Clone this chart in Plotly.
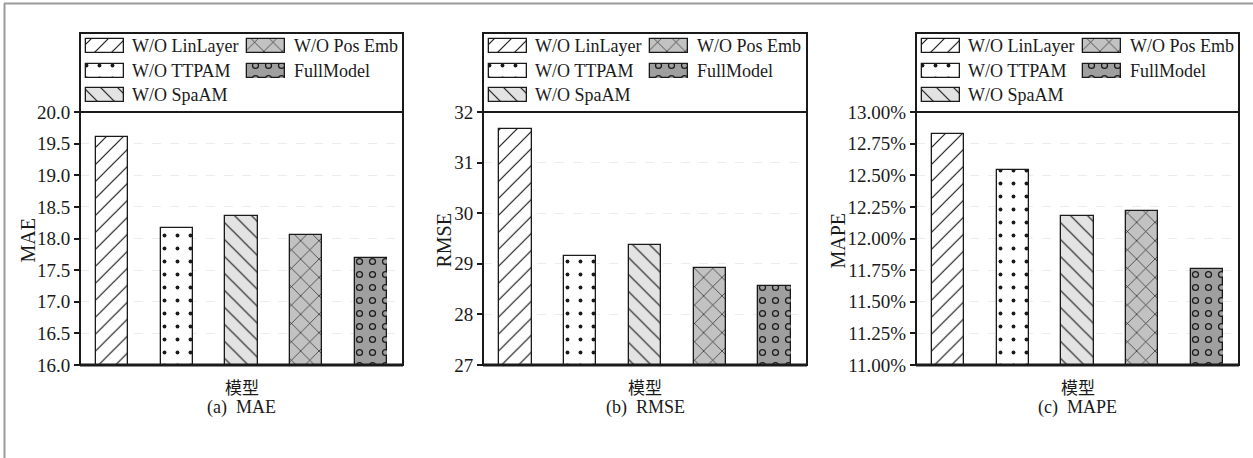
import plotly.graph_objects as go

# ---- data ----
models = ["W/O LinLayer", "W/O TTPAM", "W/O SpaAM", "W/O Pos Emb", "FullModel"]
mae = [19.60, 18.16, 18.35, 18.05, 17.69]
rmse = [31.66, 29.16, 29.37, 28.92, 28.57]
mape = [12.83, 12.54, 12.18, 12.22, 11.76]  # percent

metric_names = ["MAE", "RMSE", "MAPE"]
captions = ["(a)\u00a0\u00a0MAE", "(b)\u00a0\u00a0RMSE", "(c)\u00a0\u00a0MAPE"]
x_title = "模型"

# ---- styling ----
W, H = 1253, 458
SERIF = "Liberation Serif, Times New Roman, Noto Sans CJK SC, serif"
CJK = "Noto Sans CJK SC, Liberation Serif, serif"
INK = "#1a1a1a"

patterns = {
    "W/O LinLayer": dict(bg="#ffffff", shape="/", size=12, solidity=0.1),
    "W/O TTPAM": dict(bg="#ffffff", shape=".", size=13, solidity=0.07),
    "W/O SpaAM": dict(bg="#e3e3e3", shape="\\", size=12, solidity=0.1),
    "W/O Pos Emb": dict(bg="#c2c2c2", shape="x", size=13, solidity=0.1),
    "FullModel": dict(bg="#9f9f9f", shape=".", size=13, solidity=0.24),
}
ring_hole = dict(shape=".", size=13, solidity=0.1)

# panel geometry in pixels
panels_px = [(80, 403), (483, 807), (916, 1239)]
plot_top, plot_bot, leg_top = 112, 365, 33
ytitle_x = [27, 443, 837]


def px(x):
    return x / W


def py(y):
    return 1 - y / H


axis_specs = [
    dict(range=[16, 20], dtick=0.5, tickformat=".1f", ticksuffix=""),
    dict(range=[27, 32], dtick=1, tickformat="d", ticksuffix=""),
    dict(range=[11, 13], dtick=0.25, tickformat=".2f", ticksuffix="%"),
]
series = [mae, rmse, mape]

fig = go.Figure()
shapes, annotations = [], []


def bar_marker(name):
    p = patterns[name]
    return dict(
        color=p["bg"],
        line=dict(color=INK, width=1.3),
        pattern=dict(shape=p["shape"], size=p["size"], solidity=p["solidity"],
                     fgcolor=INK, bgcolor=p["bg"], fillmode="replace"),
    )


def hole_marker():
    bg = patterns["FullModel"]["bg"]
    return dict(
        color="rgba(0,0,0,0)",
        line=dict(color="rgba(0,0,0,0)", width=0),
        pattern=dict(shape=ring_hole["shape"], size=ring_hole["size"],
                     solidity=ring_hole["solidity"], fgcolor=bg,
                     bgcolor="rgba(0,0,0,0)", fillmode="replace"),
    )


# legend layout (relative pixel units inside each legend box)
leg_rows = [12.5, 38, 62]
leg_cols = [(6, 50), (167, 212)]
leg_slots = {
    "W/O LinLayer": (0, 0), "W/O TTPAM": (0, 1), "W/O SpaAM": (0, 2),
    "W/O Pos Emb": (1, 0), "FullModel": (1, 1),
}
sw_len, sw_h = 38, 14


def text_note(**kw):
    d = dict(showarrow=False, xanchor="center", yanchor="middle")
    d.update(kw)
    return d


for i, (x0, x1) in enumerate(panels_px):
    k = i + 1
    ax = "" if k == 1 else str(k)
    lk = str(k + 3)
    vals = series[i]

    for m, v in zip(models, vals):
        fig.add_trace(go.Bar(x=[m], y=[v], width=0.5, marker=bar_marker(m),
                             showlegend=False, xaxis="x" + ax, yaxis="y" + ax,
                             hoverinfo="skip"))
        if m == "FullModel":
            fig.add_trace(go.Bar(x=[m], y=[v], width=0.5, marker=hole_marker(),
                                 showlegend=False, xaxis="x" + ax, yaxis="y" + ax,
                                 hoverinfo="skip"))

    # legend swatches on a helper axis pair
    for m in models:
        c, r = leg_slots[m]
        sx, tx = leg_cols[c]
        fig.add_trace(go.Bar(orientation="h", y=[leg_rows[r]], x=[sw_len], base=[sx],
                             width=sw_h, marker=bar_marker(m), showlegend=False,
                             xaxis="x" + lk, yaxis="y" + lk, hoverinfo="skip"))
        if m == "FullModel":
            fig.add_trace(go.Bar(orientation="h", y=[leg_rows[r]], x=[sw_len], base=[sx],
                                 width=sw_h, marker=hole_marker(), showlegend=False,
                                 xaxis="x" + lk, yaxis="y" + lk, hoverinfo="skip"))
        annotations.append(text_note(x=tx, y=leg_rows[r], xref="x" + lk, yref="y" + lk,
                                     text=m, xanchor="left",
                                     font=dict(family=SERIF, size=18, color=INK)))

    spec = axis_specs[i]
    fig.update_layout(**{
        "xaxis" + ax: dict(domain=[px(x0), px(x1)], anchor="y" + ax,
                           range=[-0.5, 4.5], showticklabels=False, ticks="",
                           showgrid=False, zeroline=False, showline=False,
                           automargin=False,
                           categoryorder="array", categoryarray=models),
        "yaxis" + ax: dict(domain=[py(plot_bot), py(plot_top)], anchor="x" + ax,
                           range=spec["range"], dtick=spec["dtick"],
                           tickformat=spec["tickformat"], ticksuffix=spec["ticksuffix"],
                           ticks="outside", ticklen=5, tickwidth=1.5, tickcolor=INK,
                           showline=False, zeroline=False, automargin=False,
                           showgrid=True, gridcolor="#ececec", griddash="dash",
                           tickfont=dict(family=SERIF, size=19, color=INK)),
        "xaxis" + lk: dict(domain=[px(x0), px(x1)], anchor="y" + lk,
                           range=[0, x1 - x0], visible=False, automargin=False),
        "yaxis" + lk: dict(domain=[py(plot_top), py(leg_top)], anchor="x" + lk,
                           range=[plot_top - leg_top, 0], visible=False,
                           automargin=False),
    })

    # frame around legend + plot
    shapes.append(dict(type="rect", xref="paper", yref="paper",
                       x0=px(x0), x1=px(x1), y0=py(plot_bot), y1=py(leg_top),
                       line=dict(color=INK, width=2), layer="above"))
    shapes.append(dict(type="line", xref="paper", yref="paper",
                       x0=px(x0), x1=px(x1), y0=py(plot_top), y1=py(plot_top),
                       line=dict(color=INK, width=2), layer="above"))
    shapes.append(dict(type="line", xref="paper", yref="paper",
                       x0=px(x0), x1=px(x1), y0=py(plot_bot), y1=py(plot_bot),
                       line=dict(color=INK, width=3), layer="above"))

    cx = px((x0 + x1) / 2)
    annotations.append(text_note(x=px(ytitle_x[i]), y=py((plot_top + plot_bot) / 2 + 2),
                                 xref="paper", yref="paper", text=metric_names[i],
                                 textangle=-90,
                                 font=dict(family=SERIF, size=20, color=INK)))
    annotations.append(text_note(x=cx, y=py(386), xref="paper", yref="paper", text=x_title,
                                 font=dict(family=CJK, size=17, color=INK)))
    annotations.append(text_note(x=cx, y=py(407), xref="paper", yref="paper",
                                 text=captions[i],
                                 font=dict(family=SERIF, size=18, color=INK)))

# outer page border (top and left edges)
shapes.append(dict(type="line", xref="paper", yref="paper", x0=px(4), x1=1,
                   y0=py(3.5), y1=py(3.5), line=dict(color="#9a9a9a", width=2)))
shapes.append(dict(type="line", xref="paper", yref="paper", x0=px(4.5), x1=px(4.5),
                   y0=py(3.5), y1=0, line=dict(color="#9a9a9a", width=2)))

fig.update_layout(
    template="none",
    width=W, height=H, margin=dict(l=0, r=0, t=0, b=0, pad=0, autoexpand=False),
    paper_bgcolor="white", plot_bgcolor="white",
    barmode="overlay", bargap=0, showlegend=False,
    shapes=shapes, annotations=annotations,
    font=dict(family=SERIF, color=INK),
)

fig.write_html("out.html")
